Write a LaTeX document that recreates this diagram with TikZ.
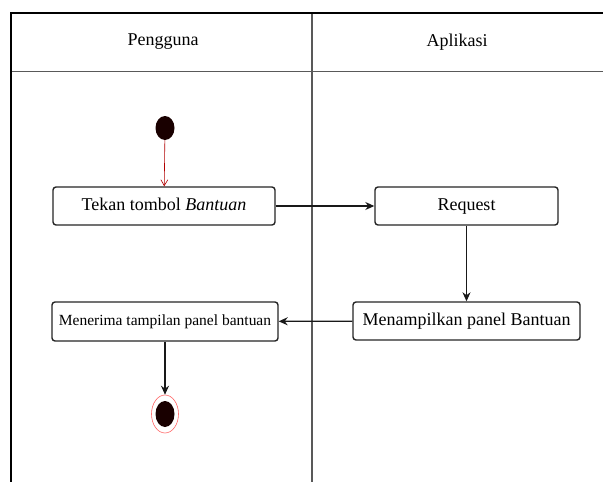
\documentclass[tikz,border=0pt]{standalone}
\usepackage{fontspec}
\setmainfont{Liberation Serif}
\usetikzlibrary{arrows.meta,shapes.geometric}
\begin{document}
\begin{tikzpicture}[x=1pt,y=-1pt,
  lanetext/.style={font=\fontsize{18}{20}\selectfont, yscale=-1.15},
  action/.style={draw=black!85, line width=1.4pt, rounded corners=3pt, fill=white,
    inner sep=0pt, text height=12pt, text depth=4pt, font=\fontsize{18}{20}\selectfont},
  flow/.style={draw=black!90, line width=1.2pt, -{Stealth[length=9pt,width=8pt]}},
  startflow/.style={draw=red!70!black, line width=0.6pt, -{Straight Barb[length=6pt,width=7pt]}},
  startdot/.style={ellipse, fill=black!90!red, minimum width=19pt, minimum height=24pt, inner sep=0pt},
]
\useasboundingbox (0,0) rectangle (603,482);
\fill[white] (0,0) rectangle (603,482);

% swimlane frame
\begin{scope}
\clip (0,0) rectangle (603,482);
\draw[black!65, line width=1.6pt] (10,71.5) -- (620,71.5);
\draw[black!65, line width=1.4pt] (312,13) -- (312,500);
\draw[black, line width=2.2pt] (620,13) -- (11,13) -- (11,500);
\end{scope}

\node[font=\fontsize{18}{20}\selectfont] (lane1) at (163,42) {Pengguna};
\node[font=\fontsize{18}{20}\selectfont] (lane2) at (457,42) {Aplikasi};

% actions
\node[action, minimum width=222pt, minimum height=38pt] (tekan) at (164,206) {Tekan tombol \textit{Bantuan}};
\node[action, minimum width=183pt, minimum height=38pt] (request) at (466.5,206) {Request};
\node[action, minimum width=227pt, minimum height=38pt] (tampil) at (466.5,321) {Menampilkan panel Bantuan};
\node[action, minimum width=226pt, minimum height=39pt, font=\fontsize{15.5}{18}\selectfont] (terima) at (165,321.5) {Menerima tampilan panel bantuan};

% initial and final states
\node[startdot] (start) at (165,128) {};
\node[ellipse, draw=red!60, line width=0.6pt, minimum width=27pt, minimum height=38pt, inner sep=0pt] (end) at (165,414) {};
\node[ellipse, fill=black!90!red, minimum width=19pt, minimum height=26pt, inner sep=0pt] (enddot) at (end.center) {};

% control flow
\draw[startflow] (start) -- (tekan);
\draw[flow] (tekan) -- (request);
\draw[flow] (request) -- (tampil);
\draw[flow] (tampil) -- (terima);
\draw[flow] (terima) -- (end);
\end{tikzpicture}
\end{document}
